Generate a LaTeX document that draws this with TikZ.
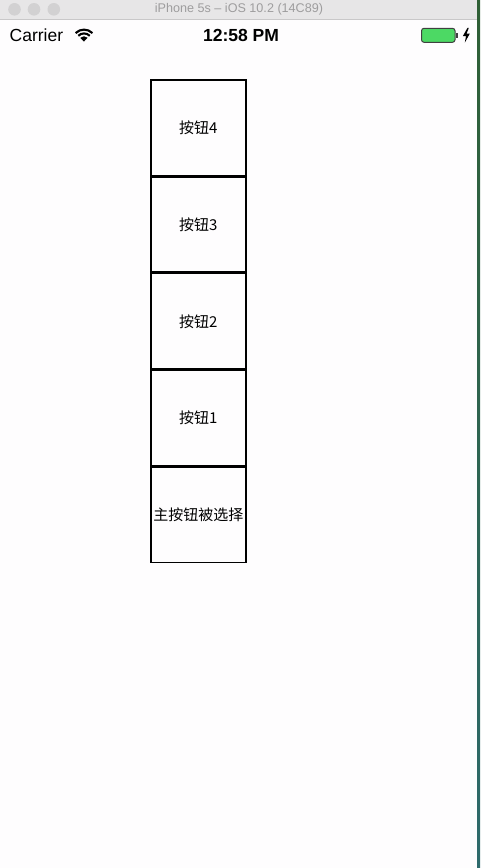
\documentclass[tikz,border=0pt]{standalone}
\usepackage{fontspec}
\setmainfont{Liberation Sans}
\newfontfamily\cjk{Noto Sans CJK SC}
\usetikzlibrary{positioning}

\definecolor{titlebar}{HTML}{E7E6E7}
\definecolor{titleline}{HTML}{C9C8C9}
\definecolor{titletext}{HTML}{9E9D9E}
\definecolor{dotgray}{HTML}{D2D1D2}
\definecolor{batgreen}{HTML}{4CD964}
\definecolor{screen}{HTML}{FEFDFE}
\definecolor{deskgreen}{HTML}{2F5F35}
\definecolor{deskteal}{HTML}{2E6A6C}

\tikzset{
  btn/.style={draw, line width=1.5pt, minimum width=95pt, minimum height=95.3pt,
    inner sep=0pt, font=\cjk\fontsize{15}{15}\selectfont},
  winbtn/.style={fill=dotgray, draw=none, circle, minimum size=12.6pt, inner sep=0pt}
}

\begin{document}
\begin{tikzpicture}[x=1pt,y=-1pt]

  \useasboundingbox (0,0) rectangle (480,868);
  \fill[screen] (0,0) rectangle (480,868);

  % window title
  \fill[titlebar] (0,0) rectangle (480,19);
  \draw[titleline, line width=1pt] (0,19) -- (480,19);
  \node[winbtn] (close) at (14.5,9.3) {};
  \node[winbtn] (mini) at (34,9.3) {};
  \node[winbtn] (zoom) at (53.8,9.3) {};
  \node[text=titletext, font=\fontsize{12.6}{13}\selectfont, inner sep=0pt] (title) at (239,9.3) {iPhone 5s – iOS 10.2 (14C89)};

  % status bar
  \node[anchor=base west, inner sep=0pt, font=\fontsize{17.5}{18}\selectfont] (carrier) at (9.5,41.7) {Carrier};
  \fill (84,41.5) -- ++(45:-0pt) -- (80.3,37.8) arc[start angle=135, end angle=45, radius=5.2pt] -- cycle;
  \draw[line width=2.1pt] (78.3,35.8) arc[start angle=135, end angle=45, radius=8.1pt];
  \draw[line width=2.1pt] (75.6,33.1) arc[start angle=135, end angle=45, radius=11.9pt];
  \node[anchor=base, inner sep=0pt, font=\bfseries\fontsize{17.5}{18}\selectfont] (clock) at (241,41.5) {12:58 PM};

  \draw[line width=1pt, draw=black!75, fill=batgreen, rounded corners=2.5pt] (421.5,28.3) rectangle (455,42.3);
  \fill[black!75] (456,33) rectangle (458,37.6);
  \fill (467.5,27.8) -- (462.8,36.2) -- (466,36.2) -- (464.8,42.6) -- (469.8,33.6) -- (466.6,33.6) -- (468.8,27.8) -- cycle;

  % desktop edge
  \shade[top color=deskgreen, bottom color=deskteal] (477,0) rectangle (480,868);

  % buttons
  \node[btn, anchor=north] (btn4) at (198.25,79.3) {按钮4};
  \node[btn, below=0pt of btn4] (btn3) {按钮3};
  \node[btn, below=0pt of btn3] (btn2) {按钮2};
  \node[btn, below=0pt of btn2] (btn1) {按钮1};
  \node[btn, below=0pt of btn1] (main) {主按钮被选择};

\end{tikzpicture}
\end{document}
